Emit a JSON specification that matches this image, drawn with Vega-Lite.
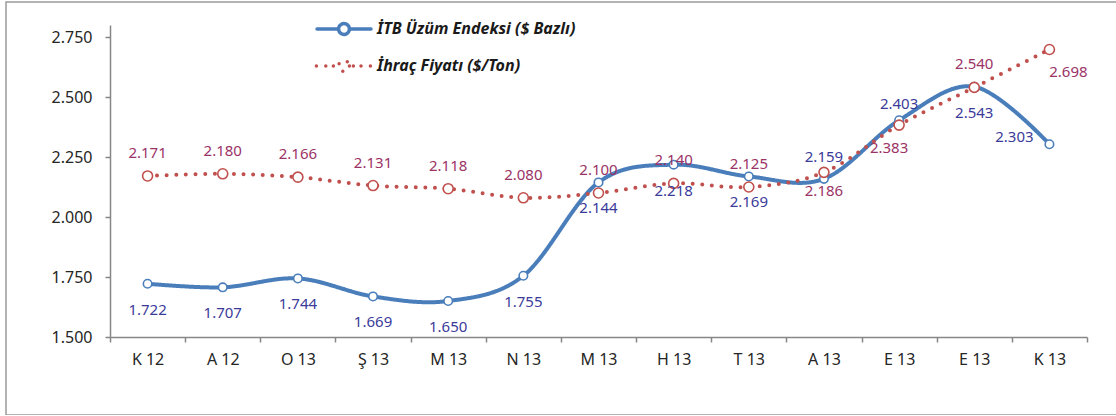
{
  "$schema": "https://vega.github.io/schema/vega-lite/v6.json",
  "width": 1116,
  "height": 413,
  "padding": {"left": 6, "top": 2, "right": 0, "bottom": 0},
  "autosize": {"type": "none"},
  "config": {
    "view": {"stroke": "#9a9a9a", "strokeWidth": 1.5},
    "font": "Noto Sans",
    "locale": {"number": {"decimal": ",", "thousands": ".", "grouping": [3], "currency": ["", ""]}}
  },
  "data": {
    "values": [
      {"key": "K 12|0", "series": "İTB Üzüm Endeksi ($ Bazlı)", "value": 1722},
      {"key": "A 12|0", "series": "İTB Üzüm Endeksi ($ Bazlı)", "value": 1707},
      {"key": "O 13|0", "series": "İTB Üzüm Endeksi ($ Bazlı)", "value": 1744},
      {"key": "Ş 13|0", "series": "İTB Üzüm Endeksi ($ Bazlı)", "value": 1669},
      {"key": "M 13|0", "series": "İTB Üzüm Endeksi ($ Bazlı)", "value": 1650},
      {"key": "N 13|0", "series": "İTB Üzüm Endeksi ($ Bazlı)", "value": 1755},
      {"key": "M 13|1", "series": "İTB Üzüm Endeksi ($ Bazlı)", "value": 2144},
      {"key": "H 13|0", "series": "İTB Üzüm Endeksi ($ Bazlı)", "value": 2218},
      {"key": "T 13|0", "series": "İTB Üzüm Endeksi ($ Bazlı)", "value": 2169},
      {"key": "A 13|0", "series": "İTB Üzüm Endeksi ($ Bazlı)", "value": 2159},
      {"key": "E 13|0", "series": "İTB Üzüm Endeksi ($ Bazlı)", "value": 2403},
      {"key": "E 13|1", "series": "İTB Üzüm Endeksi ($ Bazlı)", "value": 2543},
      {"key": "K 13|0", "series": "İTB Üzüm Endeksi ($ Bazlı)", "value": 2303},
      {"key": "K 12|0", "series": "İhraç Fiyatı ($/Ton)", "value": 2171},
      {"key": "A 12|0", "series": "İhraç Fiyatı ($/Ton)", "value": 2180},
      {"key": "O 13|0", "series": "İhraç Fiyatı ($/Ton)", "value": 2166},
      {"key": "Ş 13|0", "series": "İhraç Fiyatı ($/Ton)", "value": 2131},
      {"key": "M 13|0", "series": "İhraç Fiyatı ($/Ton)", "value": 2118},
      {"key": "N 13|0", "series": "İhraç Fiyatı ($/Ton)", "value": 2080},
      {"key": "M 13|1", "series": "İhraç Fiyatı ($/Ton)", "value": 2100},
      {"key": "H 13|0", "series": "İhraç Fiyatı ($/Ton)", "value": 2140},
      {"key": "T 13|0", "series": "İhraç Fiyatı ($/Ton)", "value": 2125},
      {"key": "A 13|0", "series": "İhraç Fiyatı ($/Ton)", "value": 2186},
      {"key": "E 13|0", "series": "İhraç Fiyatı ($/Ton)", "value": 2383},
      {"key": "E 13|1", "series": "İhraç Fiyatı ($/Ton)", "value": 2540},
      {"key": "K 13|0", "series": "İhraç Fiyatı ($/Ton)", "value": 2698}
    ]
  },
  "encoding": {
    "x": {
      "field": "key", "type": "nominal", "sort": null,
      "scale": {"type": "band", "range": [104, 1081], "paddingInner": 0, "paddingOuter": 0},
      "axis": {
        "title": null, "orient": "bottom", "offset": -78, "grid": false,
        "domainColor": "#868686", "domainWidth": 1.5,
        "tickColor": "#868686", "tickWidth": 1.5, "tickSize": 5, "tickBand": "extent",
        "labelExpr": "isString(datum.value) ? split(datum.value, '|')[0] : ''", "labelAngle": 0,
        "labelFont": "Noto Sans", "labelFontSize": 16, "labelColor": "#262626", "labelPadding": 9
      }
    },
    "y": {
      "field": "value", "type": "quantitative",
      "scale": {"domain": [1500, 2800], "range": [335, 23], "nice": false, "zero": false},
      "axis": {
        "title": null, "offset": -104, "grid": false,
        "values": [1500, 1750, 2000, 2250, 2500, 2750], "format": ",.0f",
        "domainColor": "#868686", "domainWidth": 1.5,
        "tickColor": "#868686", "tickWidth": 1.5, "tickSize": 5,
        "labelFont": "Noto Sans", "labelFontSize": 16, "labelColor": "#262626", "labelPadding": 13
      }
    }
  },
  "layer": [
    {
      "mark": {"type": "line", "interpolate": "cardinal", "strokeWidth": 4, "strokeCap": "round"},
      "encoding": {
        "color": {
          "field": "series", "type": "nominal",
          "scale": {"domain": ["İTB Üzüm Endeksi ($ Bazlı)", "İhraç Fiyatı ($/Ton)"], "range": ["#4A7EBB", "#C0504D"]},
          "legend": {
            "orient": "none", "legendX": 316, "legendY": 5, "title": null, "padding": 0,
            "symbolSize": 1600, "labelOffset": 11, "rowPadding": 2, "labelLimit": 0,
            "labelFont": "Noto Sans", "labelFontStyle": "italic", "labelFontWeight": "bold",
            "labelFontSize": 16, "labelColor": "#1a1a1a",
            "encode": {
              "symbols": {
                "update": {
                  "shape": {"signal": "datum.index === 0 ? 'M-1.35,0L-0.27,0M0.27,0A0.27,0.27,0,1,1,-0.27,0A0.27,0.27,0,1,1,0.27,0M0.27,0L1.35,0' : 'M0.27,0A0.27,0.27,0,1,1,-0.27,0A0.27,0.27,0,1,1,0.27,0M-1.38,0A0.03,0.03,0,1,1,-1.32,0A0.03,0.03,0,1,1,-1.38,0M-0.91,0A0.03,0.03,0,1,1,-0.85,0A0.03,0.03,0,1,1,-0.91,0M-0.53,0A0.03,0.03,0,1,1,-0.47,0A0.03,0.03,0,1,1,-0.53,0M0.47,0A0.03,0.03,0,1,1,0.53,0A0.03,0.03,0,1,1,0.47,0M0.85,0A0.03,0.03,0,1,1,0.91,0A0.03,0.03,0,1,1,0.85,0M1.32,0A0.03,0.03,0,1,1,1.38,0A0.03,0.03,0,1,1,1.32,0'"},
                  "size": {"value": 1600},
                  "fill": {"value": "white"},
                  "fillOpacity": {"value": 1},
                  "opacity": {"value": 1},
                  "strokeOpacity": {"value": 1},
                  "strokeWidth": {"value": 3.5},
                  "strokeCap": {"value": "round"},
                  "strokeDash": {"value": [1, 0]}
                }
              }
            }
          }
        },
        "strokeDash": {
          "field": "series", "type": "nominal",
          "scale": {"domain": ["İTB Üzüm Endeksi ($ Bazlı)", "İhraç Fiyatı ($/Ton)"], "range": [[1, 0], [0, 9.6]]},
          "legend": null
        }
      }
    },
    {
      "transform": [{"filter": "datum.series === 'İTB Üzüm Endeksi ($ Bazlı)'"}],
      "mark": {"type": "point", "shape": "circle", "filled": false, "fill": "white", "fillOpacity": 1, "stroke": "#4A7EBB", "strokeWidth": 1.6, "opacity": 1, "size": 72}
    },
    {
      "transform": [{"filter": "datum.series === 'İhraç Fiyatı ($/Ton)'"}],
      "mark": {"type": "point", "shape": "circle", "filled": false, "fill": "white", "fillOpacity": 1, "stroke": "#C0504D", "strokeWidth": 1.6, "opacity": 1, "size": 100}
    },
    {
      "transform": [{"filter": "datum.series === 'İTB Üzüm Endeksi ($ Bazlı)' && indexof(['A 13|0', 'E 13|0', 'K 13|0'], datum.key) < 0"}],
      "mark": {"type": "text", "font": "Noto Sans", "fontSize": 15, "color": "#3B3B9A", "dy": 26, "baseline": "middle"},
      "encoding": {"text": {"field": "value", "type": "quantitative", "format": ",.0f"}}
    },
    {
      "transform": [{"filter": "datum.series === 'İTB Üzüm Endeksi ($ Bazlı)' && datum.key === 'A 13|0'"}],
      "mark": {"type": "text", "font": "Noto Sans", "fontSize": 15, "color": "#3B3B9A", "dy": -22, "baseline": "middle"},
      "encoding": {"text": {"field": "value", "type": "quantitative", "format": ",.0f"}}
    },
    {
      "transform": [{"filter": "datum.series === 'İTB Üzüm Endeksi ($ Bazlı)' && datum.key === 'E 13|0'"}],
      "mark": {"type": "text", "font": "Noto Sans", "fontSize": 15, "color": "#3B3B9A", "dy": -16, "baseline": "middle"},
      "encoding": {"text": {"field": "value", "type": "quantitative", "format": ",.0f"}}
    },
    {
      "transform": [{"filter": "datum.series === 'İTB Üzüm Endeksi ($ Bazlı)' && datum.key === 'K 13|0'"}],
      "mark": {"type": "text", "font": "Noto Sans", "fontSize": 15, "color": "#3B3B9A", "dx": -35, "dy": -7, "baseline": "middle"},
      "encoding": {"text": {"field": "value", "type": "quantitative", "format": ",.0f"}}
    },
    {
      "transform": [{"filter": "datum.series === 'İhraç Fiyatı ($/Ton)' && indexof(['A 13|0', 'E 13|0', 'K 13|0'], datum.key) < 0"}],
      "mark": {"type": "text", "font": "Noto Sans", "fontSize": 15, "color": "#9B3366", "dy": -23, "baseline": "middle"},
      "encoding": {"text": {"field": "value", "type": "quantitative", "format": ",.0f"}}
    },
    {
      "transform": [{"filter": "datum.series === 'İhraç Fiyatı ($/Ton)' && datum.key === 'A 13|0'"}],
      "mark": {"type": "text", "font": "Noto Sans", "fontSize": 15, "color": "#9B3366", "dy": 19, "baseline": "middle"},
      "encoding": {"text": {"field": "value", "type": "quantitative", "format": ",.0f"}}
    },
    {
      "transform": [{"filter": "datum.series === 'İhraç Fiyatı ($/Ton)' && datum.key === 'E 13|0'"}],
      "mark": {"type": "text", "font": "Noto Sans", "fontSize": 15, "color": "#9B3366", "dx": -10, "dy": 23, "baseline": "middle"},
      "encoding": {"text": {"field": "value", "type": "quantitative", "format": ",.0f"}}
    },
    {
      "transform": [{"filter": "datum.series === 'İhraç Fiyatı ($/Ton)' && datum.key === 'K 13|0'"}],
      "mark": {"type": "text", "font": "Noto Sans", "fontSize": 15, "color": "#9B3366", "dx": 19, "dy": 23, "baseline": "middle"},
      "encoding": {"text": {"field": "value", "type": "quantitative", "format": ",.0f"}}
    }
  ]
}
